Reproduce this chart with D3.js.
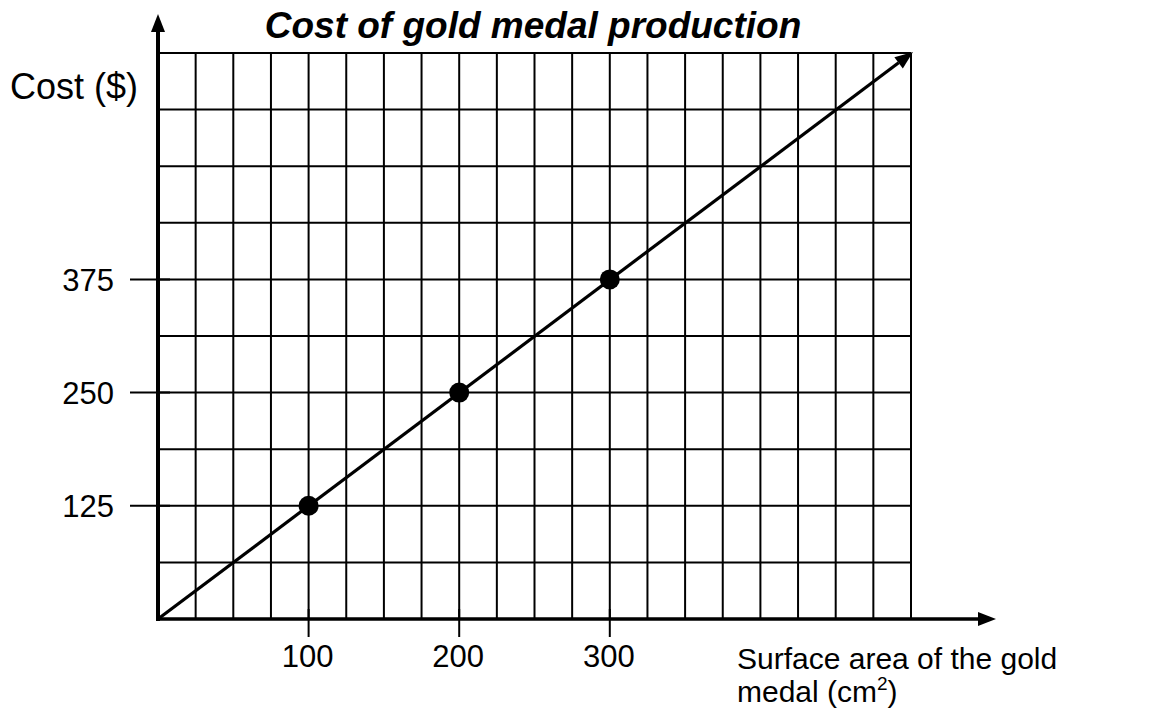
<!DOCTYPE html>
<html>
<head>
<meta charset="utf-8">
<script src="https://cdn.jsdelivr.net/npm/d3@7"></script>
<style>
  body { margin: 0; background: #fff; }
  svg text { font-family: "Liberation Sans", Arial, sans-serif; fill: #000; }
</style>
</head>
<body>
<div id="chart"></div>
<script>
// data
const areaValues = [100, 200, 300];
const costValues = [125, 250, 375];
const xTickValues = [100, 200, 300];
const yTickValues = [125, 250, 375];
const xMax = 500;
const yMax = 625;
const xStep = 25;
const yStep = 62.5;

const title = "Cost of gold medal production";
const yLabel = "Cost ($)";

const width = 1151, height = 713;

const svg = d3.select("#chart").append("svg")
  .attr("width", width)
  .attr("height", height);

const x = d3.scaleLinear().domain([0, xMax]).range([158, 911]);
const y = d3.scaleLinear().domain([0, yMax]).range([619, 53]);

// grid
const gridX = d3.range(xStep, xMax + 0.1, xStep);
const gridY = d3.range(yStep, yMax + 0.1, yStep);

svg.append("g").selectAll("line")
  .data(gridX)
  .enter().append("line")
  .attr("x1", d => x(d)).attr("x2", d => x(d))
  .attr("y1", y(0)).attr("y2", y(yMax))
  .attr("stroke", "#000").attr("stroke-width", 2);

svg.append("g").selectAll("line")
  .data(gridY)
  .enter().append("line")
  .attr("x1", x(0)).attr("x2", x(xMax))
  .attr("y1", d => y(d)).attr("y2", d => y(d))
  .attr("stroke", "#000").attr("stroke-width", 2);

// axes with arrows
svg.append("line")
  .attr("x1", x(0)).attr("x2", x(0))
  .attr("y1", y(0) + 2).attr("y2", 30)
  .attr("stroke", "#000").attr("stroke-width", 4);
svg.append("path")
  .attr("d", `M${x(0)},14 L${x(0) - 7},32 L${x(0) + 7},32 Z`)
  .attr("fill", "#000");

svg.append("line")
  .attr("x1", x(0) - 2).attr("x2", 980)
  .attr("y1", y(0)).attr("y2", y(0))
  .attr("stroke", "#000").attr("stroke-width", 3.5);
svg.append("path")
  .attr("d", `M996,${y(0)} L978,${y(0) - 7} L978,${y(0) + 7} Z`)
  .attr("fill", "#000");

// ticks
svg.append("g").selectAll("line")
  .data(yTickValues)
  .enter().append("line")
  .attr("x1", x(0) - 28).attr("x2", x(0) + 12)
  .attr("y1", d => y(d)).attr("y2", d => y(d))
  .attr("stroke", "#000").attr("stroke-width", 2);

svg.append("g").selectAll("line")
  .data(xTickValues)
  .enter().append("line")
  .attr("x1", d => x(d)).attr("x2", d => x(d))
  .attr("y1", y(0) - 10).attr("y2", y(0) + 18)
  .attr("stroke", "#000").attr("stroke-width", 2);

// tick labels
svg.append("g").selectAll("text")
  .data(yTickValues)
  .enter().append("text")
  .attr("x", 114)
  .attr("y", d => y(d))
  .attr("dy", "0.36em")
  .attr("text-anchor", "end")
  .style("font-size", "31px")
  .text(d => d);

svg.append("g").selectAll("text")
  .data(xTickValues)
  .enter().append("text")
  .attr("x", d => x(d) - 1)
  .attr("y", 667)
  .attr("text-anchor", "middle")
  .style("font-size", "31px")
  .text(d => d);

// fitted line with arrow
const lineEnd = [xMax, yMax];
const ang = Math.atan2(y(lineEnd[1]) - y(0), x(lineEnd[0]) - x(0));
const tipX = x(lineEnd[0]) + 2, tipY = y(lineEnd[1]) - 1;
const back = 18, half = 7;
const bx = tipX - back * Math.cos(ang), by = tipY - back * Math.sin(ang);

svg.append("line")
  .attr("x1", x(0)).attr("y1", y(0))
  .attr("x2", bx).attr("y2", by)
  .attr("stroke", "#000").attr("stroke-width", 3.2);
svg.append("path")
  .attr("d", `M${tipX},${tipY} L${bx - half * Math.sin(ang)},${by + half * Math.cos(ang)} L${bx + half * Math.sin(ang)},${by - half * Math.cos(ang)} Z`)
  .attr("fill", "#000");

// points
svg.append("g").selectAll("circle")
  .data(areaValues.map((a, i) => [a, costValues[i]]))
  .enter().append("circle")
  .attr("cx", d => x(d[0]))
  .attr("cy", d => y(d[1]))
  .attr("r", 10)
  .attr("fill", "#000");

// title and labels
svg.append("text")
  .attr("x", 533).attr("y", 38)
  .attr("text-anchor", "middle")
  .style("font-size", "37px")
  .style("font-weight", "bold")
  .style("font-style", "italic")
  .text(title);

svg.append("text")
  .attr("x", 10).attr("y", 99)
  .style("font-size", "36px")
  .text(yLabel);

const xl = svg.append("text")
  .style("font-size", "30px");
xl.append("tspan").attr("x", 737).attr("y", 669).text("Surface area of the gold");
xl.append("tspan").attr("x", 737).attr("y", 702).text("medal (cm");
xl.append("tspan").attr("dy", -12).style("font-size", "19px").text("2");
xl.append("tspan").attr("dy", 12).text(")");
</script>
</body>
</html>
